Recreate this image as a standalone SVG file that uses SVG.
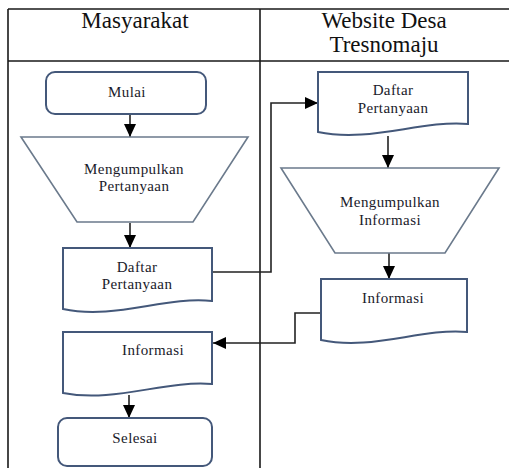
<svg xmlns="http://www.w3.org/2000/svg" width="509" height="468" viewBox="0 0 509 468">
<style>
.tbl{stroke:#1a1a1a;stroke-width:1.6;fill:none}
.box{fill:#fff;stroke:#44587a;stroke-width:2}
.trap{fill:#fff;stroke:#6b7a8c;stroke-width:1.6}
.con{fill:none;stroke:#222;stroke-width:1.6}
text{font-family:'Liberation Serif','Times New Roman',serif;text-anchor:middle}
.hdr{font-size:23px;fill:#111}
.lbl{font-size:15px;letter-spacing:0.4px;fill:#1a1a2a}
</style>
<defs>
<marker id="ah" markerUnits="userSpaceOnUse" markerWidth="14" markerHeight="14" viewBox="0 0 14 14" refX="13" refY="7" orient="auto">
<path d="M0,1 L13,7 L0,13 Z" fill="#000"/>
</marker>
</defs>
<g id="table">
<path class="tbl" d="M8,9 H509 M8,61 H509 M8,9 V468 M260,9 V468"/>
<text class="hdr" x="135" y="28">Masyarakat</text>
<text class="hdr" x="384" y="28">Website Desa</text>
<text class="hdr" x="384" y="52">Tresnomaju</text>
</g>
<g id="connectors">
<path class="con" d="M130,114 V137" marker-end="url(#ah)"/>
<path class="con" d="M130,223 V248" marker-end="url(#ah)"/>
<path class="con" d="M212,272 H271 V103 H318" marker-end="url(#ah)"/>
<path class="con" d="M388,136 V168" marker-end="url(#ah)"/>
<path class="con" d="M389,253 V279" marker-end="url(#ah)"/>
<path class="con" d="M321,313 H295 V343 H213" marker-end="url(#ah)"/>
<path class="con" d="M129,395 V418" marker-end="url(#ah)"/>
</g>
<g id="mulai">
<rect class="box" x="46" y="72" width="160" height="42" rx="9"/>
<text class="lbl" x="127" y="97">Mulai</text>
</g>
<g id="mengumpulkan-pertanyaan">
<path class="trap" d="M21,137 H248 L193,222 H77 Z"/>
<text class="lbl" x="134" y="174">Mengumpulkan</text>
<text class="lbl" x="134" y="191">Pertanyaan</text>
</g>
<g id="daftar-pertanyaan-kiri">
<path class="box" d="M63,248 H212 V301 C165,296 115,320 63,309 Z"/>
<text class="lbl" x="137" y="272">Daftar</text>
<text class="lbl" x="137" y="289">Pertanyaan</text>
</g>
<g id="daftar-pertanyaan-kanan">
<path class="box" d="M318,72 H468 V124 C420,120 370,143 318,132 Z"/>
<text class="lbl" x="393" y="95">Daftar</text>
<text class="lbl" x="393" y="113">Pertanyaan</text>
</g>
<g id="mengumpulkan-informasi">
<path class="trap" d="M281,168 H499 L445,253 H335 Z"/>
<text class="lbl" x="390" y="207">Mengumpulkan</text>
<text class="lbl" x="390" y="225">Informasi</text>
</g>
<g id="informasi-kanan">
<path class="box" d="M321,279 H467 V332 C420,328 372,351 321,340 Z"/>
<text class="lbl" x="393" y="303">Informasi</text>
</g>
<g id="informasi-kiri">
<path class="box" d="M63,332 H212 V384 C165,380 115,403 63,393 Z"/>
<text class="lbl" x="153" y="355">Informasi</text>
</g>
<g id="selesai">
<rect class="box" x="58" y="418" width="154" height="48" rx="9"/>
<text class="lbl" x="135" y="443">Selesai</text>
</g>
</svg>
